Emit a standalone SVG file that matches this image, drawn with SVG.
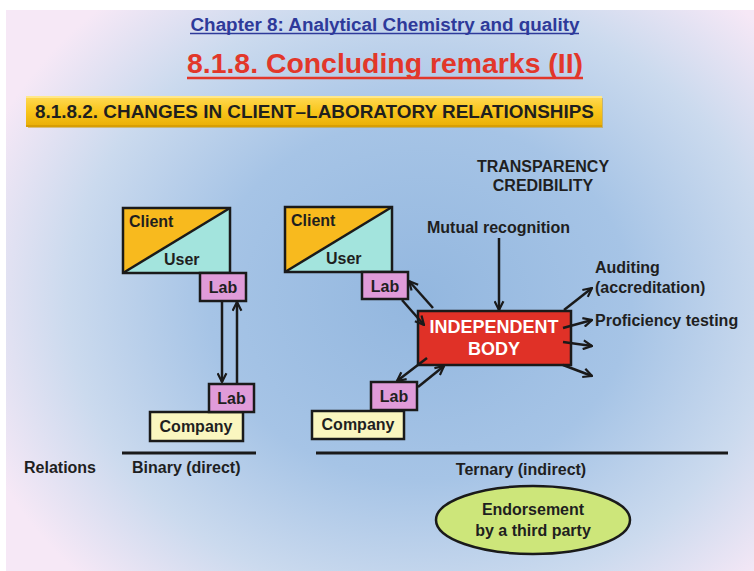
<svg xmlns="http://www.w3.org/2000/svg" width="754" height="571" viewBox="0 0 754 571">
<defs>
<radialGradient id="bg" gradientUnits="userSpaceOnUse" cx="420" cy="300" r="470" gradientTransform="translate(420 300) scale(1 0.85) translate(-420 -300)">
<stop offset="0" stop-color="#93B7DF"/>
<stop offset="0.45" stop-color="#A6C4E6"/>
<stop offset="0.75" stop-color="#CBDAEE"/>
<stop offset="1" stop-color="#F6E8F6"/>
</radialGradient>
<linearGradient id="gold" x1="0" y1="0" x2="0" y2="1">
<stop offset="0" stop-color="#FFDA55"/>
<stop offset="0.5" stop-color="#F9C51B"/>
<stop offset="1" stop-color="#E9AE05"/>
</linearGradient>
<marker id="ah" viewBox="0 0 10 10" refX="9" refY="5" markerWidth="11" markerHeight="11" markerUnits="userSpaceOnUse" orient="auto">
<path d="M1,1 L9,5 L1,9" fill="none" stroke="#1a1a1a" stroke-width="2"/>
</marker>
</defs>
<style>
text{font-family:"Liberation Sans",Arial,sans-serif;font-weight:bold;fill:#1f1f1f}
.box{stroke:#1a1a1a;stroke-width:2.5}
.lab{fill:#E09BD9}
.comp{fill:#FAF6BF}
.lbl{font-size:16px}
.ctr{text-anchor:middle}
.arr{stroke:#1a1a1a;stroke-width:2.5;fill:none;marker-end:url(#ah)}
.rule{stroke:#1a1a1a;stroke-width:3}
</style>
<rect x="0" y="0" width="754" height="571" fill="#ffffff"/>
<rect x="6" y="10" width="748" height="561" fill="url(#bg)"/>

<g id="header">
<text x="385" y="30.5" class="ctr" font-size="18" style="fill:#2E3A9A" textLength="389" lengthAdjust="spacingAndGlyphs">Chapter 8: Analytical Chemistry and quality</text>
<line x1="190" y1="33.5" x2="579" y2="33.5" stroke="#2E3A9A" stroke-width="1.5"/>
<text x="385" y="73" class="ctr" font-size="28" style="fill:#E2372A" textLength="396" lengthAdjust="spacingAndGlyphs">8.1.8. Concluding remarks (II)</text>
<line x1="187" y1="78" x2="583" y2="78" stroke="#E2372A" stroke-width="2.5"/>
</g>

<g id="banner">
<rect x="28" y="98" width="575" height="30" fill="#C79505" opacity="0.5"/>
<rect x="26" y="96" width="576" height="31" fill="url(#gold)"/>
<rect x="26" y="96" width="576" height="2" fill="#FFE88A"/>
<rect x="26" y="125" width="576" height="2" fill="#D89E03"/>
<text x="35" y="118" font-size="18" textLength="559" lengthAdjust="spacingAndGlyphs">8.1.8.2. CHANGES IN CLIENT–LABORATORY RELATIONSHIPS</text>
</g>

<g id="client-left">
<polygon points="123,208 230,208 123,273" fill="#F8BA1E"/>
<polygon points="230,208 230,273 123,273" fill="#A3E4DD"/>
<line x1="123" y1="273" x2="230" y2="208" stroke="#1a1a1a" stroke-width="2.5"/>
<rect x="123" y="208" width="107" height="65" fill="none" class="box"/>
<text x="129" y="227" class="lbl">Client</text>
<text x="164" y="265" class="lbl">User</text>
</g>
<g id="lab-left-top">
<rect x="200" y="273" width="46" height="28" class="box lab"/>
<text x="223" y="293" class="lbl ctr">Lab</text>
</g>
<g id="company-left">
<rect x="150" y="412" width="93" height="29" class="box comp"/>
<text x="196" y="432" class="lbl ctr">Company</text>
</g>
<g id="lab-left-bottom">
<rect x="209" y="384" width="45" height="28" class="box lab"/>
<text x="231.5" y="404" class="lbl ctr">Lab</text>
</g>

<g id="client-right">
<polygon points="285,207 392,207 285,272" fill="#F8BA1E"/>
<polygon points="392,207 392,272 285,272" fill="#A3E4DD"/>
<line x1="285" y1="272" x2="392" y2="207" stroke="#1a1a1a" stroke-width="2.5"/>
<rect x="285" y="207" width="107" height="65" fill="none" class="box"/>
<text x="291" y="226" class="lbl">Client</text>
<text x="326" y="264" class="lbl">User</text>
</g>
<g id="lab-right-top">
<rect x="362" y="272" width="46" height="27" class="box lab"/>
<text x="385" y="292" class="lbl ctr">Lab</text>
</g>
<g id="independent-body">
<rect x="418" y="311" width="153" height="54" class="box" fill="#E03127"/>
<text x="494" y="333" class="ctr" font-size="18" style="fill:#ffffff">INDEPENDENT</text>
<text x="494" y="355" class="ctr" font-size="18" style="fill:#ffffff">BODY</text>
</g>
<g id="company-right">
<rect x="312" y="411" width="92" height="28" class="box comp"/>
<text x="358" y="430" class="lbl ctr">Company</text>
</g>
<g id="lab-right-bottom">
<rect x="371" y="382" width="46" height="28" class="box lab"/>
<text x="394" y="402" class="lbl ctr">Lab</text>
</g>

<g id="labels">
<text x="543" y="172" class="lbl ctr">TRANSPARENCY</text>
<text x="543" y="191" class="lbl ctr">CREDIBILITY</text>
<text x="427" y="233" class="lbl">Mutual recognition</text>
<text x="595" y="273" class="lbl">Auditing</text>
<text x="595" y="293" class="lbl">(accreditation)</text>
<text x="595" y="326" class="lbl">Proficiency testing</text>
</g>

<g id="connectors">
<line x1="222" y1="301" x2="222" y2="382" class="arr"/>
<line x1="237" y1="384" x2="237" y2="302" class="arr"/>
<line x1="433" y1="308" x2="409" y2="281" class="arr"/>
<line x1="402" y1="300" x2="424" y2="325" class="arr"/>
<line x1="427" y1="358" x2="397" y2="381" class="arr"/>
<line x1="418" y1="387" x2="444" y2="366" class="arr"/>
<line x1="499" y1="238" x2="499" y2="310" class="arr"/>
<line x1="564" y1="310" x2="592" y2="288" class="arr"/>
<line x1="563" y1="328" x2="592" y2="320" class="arr"/>
<line x1="563" y1="342" x2="592" y2="346" class="arr"/>
<line x1="563" y1="365" x2="592" y2="376" class="arr"/>
</g>

<g id="relations">
<line x1="122" y1="453" x2="256" y2="453" class="rule"/>
<line x1="316" y1="453" x2="728" y2="453" class="rule"/>
<text x="24" y="473" class="lbl">Relations</text>
<text x="132" y="473" class="lbl">Binary (direct)</text>
<text x="521" y="475" class="lbl ctr">Ternary (indirect)</text>
</g>

<g id="endorsement">
<ellipse cx="533" cy="520" rx="97" ry="34" fill="#CDE67A" stroke="#1a1a1a" stroke-width="2.5"/>
<text x="533" y="515" class="lbl ctr">Endorsement</text>
<text x="533" y="536" class="lbl ctr">by a third party</text>
</g>
</svg>
